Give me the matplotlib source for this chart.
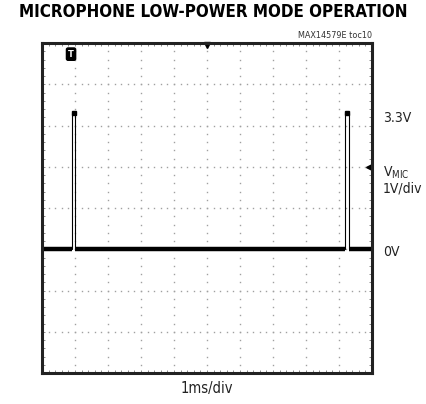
import numpy as np
import matplotlib
matplotlib.use("Agg")
import matplotlib.pyplot as plt

# trace data (time in ms, voltage in V)
t_ms = [0.0, 0.92, 0.92, 1.0, 1.0, 9.19, 9.19, 9.3, 9.3, 10.0]
v_mic = [0.0, 0.0, 3.3, 3.3, 0.0, 0.0, 3.3, 3.3, 0.0, 0.0]

title = "MICROPHONE LOW-POWER MODE OPERATION"
part = "MAX14579E toc10"
x_label = "1ms/div"
right_labels = ["3.3V", "V$_{\\mathregular{MIC}}$\n1V/div", "0V"]

n_xdiv, n_ydiv = 10, 8
v_offset = 3.0  # 0V sits 3 divisions above the bottom

fig = plt.figure(figsize=(4.27, 4.04), dpi=100)
ax = fig.add_axes([42 / 427, 1 - 373 / 404, 330 / 427, 330 / 404])
ax.set_xlim(0, n_xdiv)
ax.set_ylim(0, n_ydiv)

# dotted graticule
for gx in range(1, n_xdiv):
    ys = np.arange(0, n_ydiv + 0.01, 0.2)
    ax.plot([gx] * len(ys), ys, ls="none", marker="s", ms=1.0, color="#a0a0a0", mew=0)
for gy in range(1, n_ydiv):
    xs = np.arange(0, n_xdiv + 0.01, 0.2)
    ax.plot(xs, [gy] * len(xs), ls="none", marker="s", ms=1.0, color="#a0a0a0", mew=0)

t = np.array(t_ms)
v = np.array(v_mic) + v_offset
# thin pulse edges
ax.plot(t, v, color="black", lw=0.8, solid_joinstyle="miter")
# thick baseline
base = np.where(np.array(v_mic) == 0, v, np.nan)
ax.plot(t, base, color="black", lw=3.2, solid_capstyle="butt")
# blobs at pulse tops
tops = [(t[i] + t[i + 1]) / 2 for i in range(len(t) - 1) if v_mic[i] > 0 and v_mic[i + 1] > 0]
ax.plot(tops, [3.3 + v_offset] * len(tops), ls="none", marker="s", ms=3, color="black")

ax.set_xticks([])
ax.set_yticks([])
ax.set_xticks(np.arange(0, n_xdiv + 0.01, 0.2), minor=True)
ax.set_yticks(np.arange(0, n_ydiv + 0.01, 0.2), minor=True)
ax.tick_params(which="minor", direction="in", length=2.5, width=0.6, color="#777777",
               top=True, right=True, labelbottom=False, labelleft=False)
for s in ax.spines.values():
    s.set_linewidth(2.2)
    s.set_color("#222222")

# scope markers
ax.plot([5], [n_ydiv - 0.05], marker="v", ms=5, color="black", clip_on=False)
ax.plot([n_xdiv - 0.08], [5], marker="<", ms=4, color="black", clip_on=False)
ax.text(0.88, 7.73, "T", color="white", fontsize=6, fontweight="bold", ha="center", va="center",
        bbox=dict(boxstyle="round,pad=0.2", fc="black", ec="black"))

fig.text(213 / 427, 1 - 12 / 404, title, ha="center", va="center", fontsize=12.2,
         fontweight="bold", fontstretch="condensed", family="DejaVu Sans")
fig.text(372 / 427, 1 - 35 / 404, part, ha="right", va="center", fontsize=6.5,
         fontstretch="condensed", color="#333333")
fig.text(207 / 427, 1 - 388 / 404, x_label, ha="center", va="center", fontsize=10.5,
         fontstretch="condensed", color="#222222")

label_y = [118, 180, 252]
for lab, yy in zip(right_labels, label_y):
    fig.text(383 / 427, 1 - yy / 404, lab, ha="left", va="center", fontsize=10,
             fontstretch="condensed", color="#222222", linespacing=1.1)

fig.savefig("out.png", dpi=100)
